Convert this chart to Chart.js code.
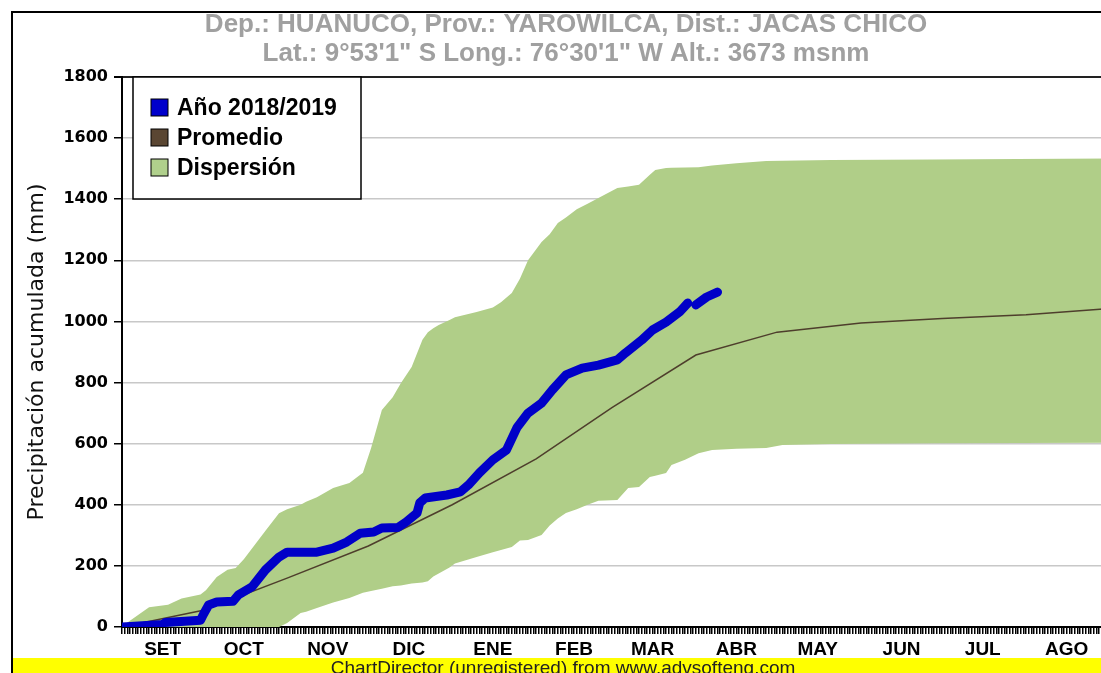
<!DOCTYPE html>
<html>
<head>
<meta charset="utf-8">
<script src="https://cdn.jsdelivr.net/npm/chart.js@4/dist/chart.umd.min.js"></script>
<style>
  html, body { margin: 0; padding: 0; overflow: hidden; background: #fff; }
  canvas { display: block; }
</style>
</head>
<body>
<canvas id="precip-chart" width="1128" height="673"></canvas>
<script>
// titles
const titleLines = [
  'Dep.: HUANUCO, Prov.: YAROWILCA, Dist.: JACAS CHICO',
  'Lat.: 9\u00b053\'1" S Long.: 76\u00b030\'1" W Alt.: 3673 msnm'
];
const footerText = 'ChartDirector (unregistered) from www.advsofteng.com';
const yTitle = 'Precipitaci\u00f3n acumulada (mm)';

// x axis: days counted from 1 Sep, month labels in the middle of each month
const monthLabels = ['SET', 'OCT', 'NOV', 'DIC', 'ENE', 'FEB', 'MAR', 'ABR', 'MAY', 'JUN', 'JUL', 'AGO'];
const monthMidDays = [15, 45, 76, 106, 137, 167, 196, 227, 257, 288, 318, 349];

// Año 2018/2019 (null = gap)
const yearDays = [0, 15, 16, 29, 30, 32, 35, 41, 43, 48, 53, 58, 61, 72, 78, 83, 88, 93, 96, 102, 105, 109, 110, 112,
  120, 125, 128, 132, 137, 142, 146, 150, 155, 159, 164, 170, 176, 183, 186, 192, 196, 201, 206, 209, 210.5, 212, 216, 220];
const yearValues = [0, 8, 15, 22, 40, 72, 82, 84, 105, 131, 187, 229, 245, 245, 258, 278, 307, 311, 324, 326, 344, 373, 406, 422,
  432, 442, 465, 504, 547, 579, 654, 700, 733, 776, 825, 847, 857, 874, 897, 939, 972, 998, 1031, 1060, null, 1054, 1080, 1096];

// Promedio
const meanDays = [0, 30, 61, 91, 122, 153, 181, 212, 242, 273, 303, 334, 365];
const meanValues = [0, 55, 160, 265, 400, 550, 718, 890, 965, 995, 1010, 1022, 1042];

// Dispersión (upper / lower edge)
const bandDays = [0, 2, 10, 17, 22, 29, 31, 35, 39, 42, 45, 53, 58, 61, 66, 68, 72, 78, 84, 89, 92, 96, 100, 103, 107,
  111, 113, 115, 117, 121, 123, 131, 137, 140, 144, 147, 150, 155, 158, 161, 164, 168, 172, 176, 183, 187, 191, 195,
  197, 201, 203, 208, 213, 218, 227, 238, 244, 262, 300, 331, 365];
const bandUpper = [0, 15, 65, 73, 93, 106, 120, 164, 187, 193, 222, 315, 372, 385, 400, 410, 425, 455, 471, 505, 585, 710, 752, 798, 851,
  940, 965, 978, 988, 1005, 1014, 1031, 1046, 1063, 1093, 1140, 1200, 1260, 1285, 1322, 1340, 1367, 1385, 1404, 1437, 1442, 1447, 1480,
  1496, 1502, 1503, 1504, 1505, 1510, 1518, 1525, 1526, 1528, 1530, 1532, 1533];
const bandLower = [0, 0, 0, 0, 0, 0, 0, 0, 0, 0, 0, 0, 0, 13, 46, 50, 62, 80, 95, 112, 118, 125, 133, 136, 142,
  146, 150, 165, 175, 195, 208, 229, 245, 252, 262, 283, 285, 301, 332, 355, 373, 385, 400, 413, 416, 455, 458, 491,
  495, 504, 530, 547, 569, 579, 583, 586, 596, 599, 601, 602, 603];

const legendColors = ['#0000cc', '#5a4632', '#b0d08c'];

function toPoints(xs, ys) {
  return xs.map((x, i) => ({ x: x, y: ys[i] }));
}

// frame, titles, footer and boxed legend
const decorations = {
  id: 'decorations',
  afterDraw(chart) {
    const ctx = chart.ctx;
    ctx.save();

    ctx.fillStyle = '#a0a0a0';
    ctx.font = 'bold 26px "Liberation Sans", Arial, sans-serif';
    ctx.textAlign = 'center';
    ctx.textBaseline = 'alphabetic';
    ctx.fillText(titleLines[0], 566, 32);
    ctx.fillText(titleLines[1], 566, 61);

    // yellow strip at the bottom
    ctx.fillStyle = '#ffff00';
    ctx.fillRect(13, 658, 1115, 15);
    ctx.fillStyle = '#222';
    ctx.font = '19px "Liberation Sans", Arial, sans-serif';
    ctx.fillText(footerText, 563, 674);

    // outer frame
    ctx.strokeStyle = '#000';
    ctx.lineWidth = 2;
    ctx.beginPath();
    ctx.moveTo(12, 680);
    ctx.lineTo(12, 12);
    ctx.lineTo(1128, 12);
    ctx.stroke();

    // legend box
    ctx.fillStyle = '#fff';
    ctx.fillRect(133, 77, 228, 122);
    ctx.lineWidth = 1.5;
    ctx.strokeRect(133, 77, 228, 122);
    ctx.textAlign = 'left';
    ctx.textBaseline = 'middle';
    ctx.font = 'bold 23px "Liberation Sans", Arial, sans-serif';
    const shown = [0, 1, 2];
    shown.forEach((di, row) => {
      const cy = 107.5 + row * 30;
      ctx.fillStyle = legendColors[row];
      ctx.fillRect(151, cy - 8.5, 17, 17);
      ctx.lineWidth = 1;
      ctx.strokeStyle = '#000';
      ctx.strokeRect(151, cy - 8.5, 17, 17);
      ctx.fillStyle = '#000';
      ctx.fillText(chart.data.datasets[di].label, 177, cy + 1);
    });

    ctx.restore();
  }
};

const chart = new Chart(document.querySelector('#precip-chart').getContext('2d'), {
  type: 'line',
  data: {
    datasets: [
      {
        label: 'A\u00f1o 2018/2019',
        data: toPoints(yearDays, yearValues),
        borderColor: '#0000c8',
        borderWidth: 9,
        borderCapStyle: 'round',
        borderJoinStyle: 'round',
        pointRadius: 0,
        spanGaps: false,
        fill: false
      },
      {
        label: 'Promedio',
        data: toPoints(meanDays, meanValues),
        borderColor: '#4e3e2c',
        borderWidth: 1.5,
        pointRadius: 0,
        fill: false
      },
      {
        label: 'Dispersi\u00f3n',
        data: toPoints(bandDays, bandUpper),
        borderWidth: 0,
        borderColor: 'rgba(0,0,0,0)',
        backgroundColor: '#b0ce88',
        pointRadius: 0,
        fill: '+1'
      },
      {
        label: 'lower',
        data: toPoints(bandDays, bandLower),
        borderWidth: 0,
        borderColor: 'rgba(0,0,0,0)',
        pointRadius: 0,
        fill: false
      }
    ]
  },
  options: {
    responsive: false,
    animation: false,
    events: [],
    layout: { padding: { top: 77, right: 18, bottom: 0, left: 0 } },
    plugins: {
      legend: { display: false },
      tooltip: { enabled: false },
      title: { display: false }
    },
    scales: {
      x: {
        type: 'linear',
        min: 0,
        max: 365,
        afterFit: s => { s.height = 46; },
        border: { color: '#000', width: 2 },
        grid: { drawOnChartArea: false, color: '#000', lineWidth: 1.5, tickLength: 7 },
        ticks: {
          stepSize: 1,
          autoSkip: false,
          maxRotation: 0,
          padding: 4,
          color: '#000',
          font: { family: 'Liberation Sans', weight: 'bold', size: 19 },
          callback: v => {
            const i = monthMidDays.indexOf(v);
            return i >= 0 ? monthLabels[i] : '';
          }
        }
      },
      y: {
        min: 0,
        max: 1800,
        afterFit: s => { s.width = 122; },
        border: { color: '#000', width: 2 },
        grid: {
          color: c => (c.tick && c.tick.value === 1800) ? '#222' : '#c8c8c8',
          lineWidth: c => (c.tick && c.tick.value === 1800) ? 2 : 1.5,
          tickColor: '#000',
          tickLength: 8
        },
        ticks: {
          stepSize: 200,
          padding: 6,
          color: '#000',
          font: { family: 'DejaVu Sans', weight: 'bold', size: 16 },
          callback: v => String(v)
        },
        title: {
          display: true,
          text: yTitle,
          color: '#111',
          font: { family: 'DejaVu Sans', size: 22 },
          padding: { top: 24, bottom: 0 }
        }
      }
    }
  },
  plugins: [decorations]
});
</script>
</body>
</html>
